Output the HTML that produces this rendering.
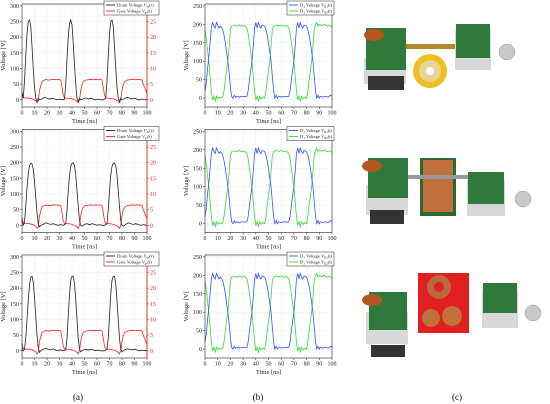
<!DOCTYPE html>
<html><head><meta charset="utf-8">
<style>
html,body{margin:0;padding:0;background:#fff;width:550px;height:404px;overflow:hidden}
svg{display:block}
text{font-family:"Liberation Serif",serif}
</style></head>
<body>
<svg id="fig" width="550" height="404" viewBox="0 0 550 404" xmlns="http://www.w3.org/2000/svg">
  <g id="charts"></g>
  <!-- photos -->
  <g>
    <rect x="364" y="58" width="42" height="26" fill="#d8d8d8"/>
    <rect x="366" y="28" width="40" height="42" fill="#2f7a3a"/>
    <rect x="368" y="76" width="36" height="14" fill="#333"/>
    <ellipse cx="374" cy="35" rx="10" ry="6" fill="#b5561e"/>
    <rect x="406" y="44" width="50" height="5" fill="#b0892a"/>
    <circle cx="430" cy="71" r="17" fill="#f0c020"/>
    <circle cx="430" cy="71" r="11" fill="#e8d49a"/>
    <circle cx="430" cy="71" r="4" fill="#fff"/>
    <rect x="455" y="30" width="36" height="40" fill="#d8d8d8"/>
    <rect x="456" y="24" width="34" height="34" fill="#2f7a3a"/>
    <circle cx="507" cy="52" r="8" fill="#c8c8c8" stroke="#999" stroke-width="0.5"/>
  </g>
  <g>
    <rect x="366" y="185" width="42" height="30" fill="#d8d8d8"/>
    <rect x="368" y="158" width="40" height="40" fill="#2f7a3a"/>
    <rect x="370" y="210" width="34" height="14" fill="#333"/>
    <ellipse cx="372" cy="166" rx="10" ry="6" fill="#b5561e"/>
    <rect x="420" y="158" width="36" height="58" fill="#2a6a30"/>
    <rect x="423" y="160" width="30" height="52" fill="#c0703a"/>
    <rect x="408" y="175" width="60" height="4" fill="#999"/>
    <rect x="467" y="180" width="38" height="36" fill="#d8d8d8"/>
    <rect x="468" y="172" width="36" height="32" fill="#2f7a3a"/>
    <circle cx="523" cy="199" r="8" fill="#c8c8c8" stroke="#999" stroke-width="0.5"/>
  </g>
  <g>
    <rect x="366" y="312" width="42" height="32" fill="#d8d8d8"/>
    <rect x="369" y="292" width="38" height="38" fill="#2f7a3a"/>
    <rect x="371" y="345" width="34" height="12" fill="#333"/>
    <ellipse cx="372" cy="300" rx="10" ry="6" fill="#b5561e"/>
    <rect x="418" y="273" width="51" height="60" fill="#e02020"/>
    <circle cx="439" cy="287" r="12" fill="#b86a3a"/>
    <circle cx="439" cy="287" r="5" fill="#e02020"/>
    <circle cx="431" cy="318" r="9" fill="#c0703a"/>
    <circle cx="452" cy="316" r="10" fill="#c0703a"/>
    <rect x="482" y="290" width="36" height="38" fill="#d8d8d8"/>
    <rect x="483" y="283" width="34" height="30" fill="#2f7a3a"/>
    <circle cx="533" cy="313" r="8" fill="#c8c8c8" stroke="#999" stroke-width="0.5"/>
  </g>
  <text x="78" y="400" font-size="9" text-anchor="middle">(a)</text>
  <text x="258" y="400" font-size="9" text-anchor="middle">(b)</text>
  <text x="457" y="400" font-size="9" text-anchor="middle">(c)</text>
</svg>
<script>
// ---- data (time [ns], voltage [V]) ----
const xTicks = [0,10,20,30,40,50,60,70,80,90,100];
const aYTicks = [0,50,100,150,200,250,300];
const aRTicks = [0,5,10,15,20,25];
const bYTicks = [0,50,100,150,200,250];
const drainA1 = [[0,20],[1,5],[2,60],[3,140],[4,210],[5,250],[6,255],[7,235],[8,170],[9,100],[10,40],[11,5],[12,-5],[13,5],[14,0],[16,3],[18,8],[20,5],[22,2],[24,5],[26,3],[28,0],[30,2],[32,0],[34,2],[35,50],[36,130],[37,200],[38,245],[39,255],[40,240],[41,180],[42,110],[43,50],[44,5],[45,-5],[46,5],[47,0],[49,3],[51,6],[53,3],[55,5],[57,2],[59,0],[61,2],[63,0],[65,0],[67,5],[68,60],[69,140],[70,210],[71,250],[72,255],[73,235],[74,170],[75,100],[76,40],[77,5],[78,-5],[79,5],[80,0],[82,4],[84,8],[86,5],[88,3],[90,5],[92,2],[94,0],[96,2],[98,0],[100,0]];
const drainA2 = [[0,15],[1,0],[2,10],[3,60],[4,120],[5,165],[6,190],[7,198],[8,196],[9,180],[10,140],[11,90],[12,40],[13,5],[14,-5],[15,0],[17,3],[19,8],[21,5],[23,3],[25,5],[27,2],[29,0],[31,2],[33,0],[35,5],[36,50],[37,110],[38,160],[39,188],[40,198],[41,200],[42,190],[43,160],[44,110],[45,60],[46,15],[47,0],[48,-3],[50,3],[52,5],[54,2],[56,5],[58,3],[60,0],[62,2],[64,0],[66,0],[68,5],[69,50],[70,110],[71,160],[72,188],[73,198],[74,198],[75,190],[76,160],[77,110],[78,60],[79,15],[80,0],[81,-3],[83,3],[85,8],[87,5],[89,3],[91,5],[93,2],[95,0],[97,2],[100,0]];
const drainA3 = [[0,10],[1,0],[2,5],[3,40],[4,100],[5,160],[6,210],[7,235],[8,238],[9,220],[10,170],[11,110],[12,50],[13,10],[14,-5],[15,0],[17,5],[19,8],[21,5],[23,3],[25,6],[27,2],[29,0],[31,3],[33,0],[35,3],[36,40],[37,110],[38,180],[39,225],[40,238],[41,238],[42,215],[43,160],[44,100],[45,40],[46,5],[47,-3],[49,3],[51,5],[53,2],[55,5],[57,3],[59,0],[61,2],[63,0],[66,0],[68,5],[69,40],[70,110],[71,180],[72,225],[73,238],[74,238],[75,215],[76,160],[77,100],[78,40],[79,5],[80,-3],[82,3],[84,6],[86,5],[88,3],[90,5],[92,2],[94,0],[96,2],[100,0]];
const gateA = [[0,2.5],[1,0.8],[3,0.5],[5,0.6],[7,0.4],[9,0.2],[11,-0.3],[12,-1],[13,-0.5],[14,3],[15,4.5],[16,5.8],[17,6.1],[19,6.5],[21,6.3],[23,6.4],[25,6.5],[27,6.4],[29,6.5],[31,6.3],[32,4],[33,1.5],[34,0.6],[36,0.5],[38,0.5],[40,0.3],[42,0],[44,-0.5],[45,-1],[46,0],[47,3],[48,4.8],[49,5.8],[51,6.3],[53,6.4],[55,6.5],[57,6.4],[59,6.5],[61,6.4],[63,6.5],[64,6.3],[65,4],[66,1.5],[67,0.6],[69,0.5],[71,0.5],[73,0.3],[75,0],[77,-0.5],[78,-1],[79,0],[80,3],[81,4.8],[82,5.8],[84,6.3],[86,6.4],[88,6.5],[90,6.4],[92,6.5],[94,6.5],[96,6.3],[97,5],[99,3],[100,2]];
const d1B = [[0,20],[1,40],[2,80],[3,110],[4,150],[5,190],[6,205],[7,195],[8,190],[9,205],[10,198],[11,190],[12,195],[13,192],[14,185],[15,170],[16,150],[17,125],[18,100],[19,70],[20,30],[21,5],[22,0],[23,8],[24,2],[25,5],[27,3],[29,5],[31,4],[33,5],[34,20],[35,50],[36,75],[37,100],[38,140],[39,190],[40,205],[41,190],[42,205],[43,195],[44,190],[45,198],[47,195],[48,185],[49,170],[50,150],[51,125],[52,100],[53,60],[54,20],[55,0],[56,8],[57,0],[58,5],[60,3],[62,5],[64,4],[66,5],[67,20],[68,50],[69,75],[70,100],[71,140],[72,190],[73,205],[74,190],[75,205],[76,195],[77,190],[78,198],[80,195],[81,185],[82,170],[83,150],[84,125],[85,100],[86,60],[87,20],[88,0],[89,8],[90,0],[91,5],[93,3],[95,5],[97,3],[99,8],[100,5]];
const d2B = [[0,185],[1,160],[2,130],[3,100],[4,60],[5,20],[6,-5],[7,5],[8,-8],[9,5],[10,-2],[11,3],[13,0],[14,3],[15,20],[16,50],[17,75],[18,100],[19,140],[20,185],[21,195],[23,197],[25,195],[27,198],[29,195],[31,197],[33,190],[34,175],[35,150],[36,125],[37,100],[38,60],[39,20],[40,-5],[41,5],[42,-8],[43,5],[44,-2],[46,3],[47,0],[48,20],[49,50],[50,75],[51,100],[52,140],[53,185],[54,195],[56,198],[58,196],[60,198],[62,195],[64,197],[66,190],[67,175],[68,150],[69,125],[70,100],[71,60],[72,20],[73,-5],[74,5],[75,-8],[76,5],[77,-2],[79,3],[80,0],[81,20],[82,50],[83,75],[84,100],[85,140],[86,185],[87,198],[88,205],[89,195],[90,200],[92,196],[94,200],[96,195],[98,197],[100,193]];
const drainSets = [drainA1, drainA2, drainA3];
const rowOffsets = [0, 125.5, 251];

const NS = "http://www.w3.org/2000/svg";
const root = document.getElementById('charts');
function mk(tag, attrs, parent){const e=document.createElementNS(NS,tag);for(const k in attrs)e.setAttribute(k,attrs[k]);(parent||root).appendChild(e);return e;}
function txt(s, attrs, parent){const e=mk('text',attrs,parent);e.textContent=s;return e;}

function chart(kind,row){
  const off=rowOffsets[row];
  const g=mk('g',{});
  
  
  const L = kind==='a'?22:205, R = kind==='a'?147:332;
  const T = 4+off, B = 107+off;
  const y0 = kind==='a'? -23 : -24, y1 = kind==='a'? 306 : 255;
  const xs = t => L + (t/100)*(R-L);
  const ys = v => B - (v-y0)/(y1-y0)*(B-T);
  // grid
  xTicks.forEach(t=>{ if(t>0&&t<100){const l=mk('line',{x1:xs(t),x2:xs(t),y1:T,y2:B,stroke:'#ddd','stroke-width':0.5,'stroke-dasharray':'1,1'},g);} });
  const yt = kind==='a'?aYTicks:bYTicks;
  yt.forEach(v=>{mk('line',{x1:L,x2:R,y1:ys(v),y2:ys(v),stroke:'#ddd','stroke-width':0.5,'stroke-dasharray':'1,1'},g);});
  // series
  function poly(data,color,scale,name){
    const p=mk('polyline',{points:data.map(d=>xs(d[0]).toFixed(2)+','+ys(d[1]*scale).toFixed(2)).join(' '),fill:'none',stroke:color,'stroke-width':0.8},g);
    
    
  }
  if(kind==='a'){
    poly(gateA,'#ff2020',10,'gate-voltage-line');
    poly(drainSets[row],'#222',1,'drain-voltage-line');
  } else {
    poly(d2B,'#33dd33',1,'d2-voltage-line');
    poly(d1B,'#3355ff',1,'d1-voltage-line');
  }
  // frame
  mk('rect',{x:L,y:T,width:R-L,height:B-T,fill:'none',stroke:'#222','stroke-width':0.6},g);
  if(kind==='a') mk('line',{x1:R,x2:R,y1:T,y2:B,stroke:'#ff2020','stroke-width':0.8},g);
  // ticks
  xTicks.forEach(t=>{mk('line',{x1:xs(t),x2:xs(t),y1:B,y2:B+2,stroke:'#222','stroke-width':0.5},g);
    const e=txt(String(t),{x:xs(t),y:B+7.5,'font-size':6,'text-anchor':'middle',fill:'#222'},g);
    });
  yt.forEach(v=>{mk('line',{x1:L-2,x2:L,y1:ys(v),y2:ys(v),stroke:'#222','stroke-width':0.5},g);
    const e=txt(String(v),{x:L-3,y:ys(v)+2,'font-size':6,'text-anchor':'end',fill:'#222'},g);
    });
  if(kind==='a'){
    aRTicks.forEach(v=>{mk('line',{x1:R,x2:R+2,y1:ys(v*10),y2:ys(v*10),stroke:'#ff2020','stroke-width':0.5},g);
      const e=txt(String(v),{x:R+3,y:ys(v*10)+2,'font-size':6,fill:'#ff2020'},g);
      });
  }
  const xt=txt('Time [ns]',{x:(L+R)/2,y:B+16,'font-size':6.5,'text-anchor':'middle',fill:'#222'},g);
  
  const yx=L-17, yy=(T+B)/2;
  const ytl=txt('Voltage [V]',{x:yx,y:yy,'font-size':6.5,'text-anchor':'middle',fill:'#222',transform:'rotate(-90 '+yx+' '+yy+')'},g);
  
  // legend
  const lg=mk('g',{},g);
  
  const lx = kind==='a'?104:287, lw = kind==='a'?55:47;
  mk('rect',{x:lx,y:T-3,width:lw,height:14,fill:'#fff',stroke:'#222','stroke-width':0.5},lg);
  const items = kind==='a'?[['Drain Voltage ','V','ds','(t)','#222'],['Gate Voltage ','V','gs','(t)','#ff2020']]:[['D₁ Voltage ','V','D1','(t)','#3355ff'],['D₂ Voltage ','V','D2','(t)','#33dd33']];
  items.forEach((it,i)=>{
    const yy2=T+1+i*6;
    mk('line',{x1:lx+2,x2:lx+11,y1:yy2,y2:yy2,stroke:it[4],'stroke-width':0.9},lg);
    const e=mk('text',{x:lx+13,y:yy2+1.6,'font-size':4.6,fill:'#222'},lg);
    
    e.appendChild(document.createTextNode(it[0]));
    const ti=document.createElementNS(NS,'tspan');ti.setAttribute('font-style','italic');ti.textContent=it[1];e.appendChild(ti);
    const sb=document.createElementNS(NS,'tspan');sb.setAttribute('font-size','3.2');sb.setAttribute('dy','1');sb.textContent=it[2];e.appendChild(sb);
    const r2=document.createElementNS(NS,'tspan');r2.setAttribute('dy','-1');r2.textContent=it[3];e.appendChild(r2);
  });
}
for(let r=0;r<3;r++){chart('a',r);chart('b',r);}
</script>
</body></html>
